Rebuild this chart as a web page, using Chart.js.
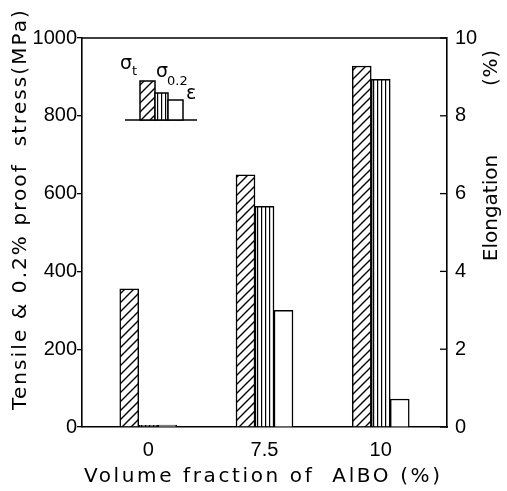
<!DOCTYPE html>
<html>
<head>
<meta charset="utf-8">
<script src="https://cdn.jsdelivr.net/npm/chart.js@4/dist/chart.umd.min.js"></script>
<style>
  html, body { margin: 0; padding: 0; background: #fff; }
  #wrap { width: 507px; height: 491px; }
</style>
</head>
<body>
<div id="wrap"><canvas id="chart" width="507" height="491"></canvas></div>
<script>
/* ================================
   Data
================================ */
const categories = ["0", "7.5", "10"];
const tensile = [355, 648, 928];      // sigma_t (MPa)
const proof = [4, 567, 894];          // sigma_0.2 (MPa)
const elongation = [0.05, 3.0, 0.72]; // (%)
const stressTicks = [0, 200, 400, 600, 800, 1000];
const elongTicks = [0, 2, 4, 6, 8, 10];

const FONT = "'Liberation Sans', Arial, sans-serif";
const TITLE_FONT = "'DejaVu Sans', sans-serif";

/* ================================
   Fill patterns
================================ */
function hatchPattern(ctx) {
  const c = document.createElement("canvas");
  c.width = 9; c.height = 9;
  const g = c.getContext("2d");
  g.fillStyle = "#fff";
  g.fillRect(0, 0, 9, 9);
  g.strokeStyle = "#000";
  g.lineWidth = 1.4;
  g.beginPath();
  g.moveTo(-1, 10); g.lineTo(10, -1);
  g.moveTo(-3, 3); g.lineTo(3, -3);
  g.moveTo(6, 12); g.lineTo(12, 6);
  g.stroke();
  return ctx.createPattern(c, "repeat");
}

function stripePattern(ctx) {
  const c = document.createElement("canvas");
  c.width = 4; c.height = 4;
  const g = c.getContext("2d");
  g.fillStyle = "#fff";
  g.fillRect(0, 0, 4, 4);
  g.fillStyle = "#000";
  g.fillRect(1, 0, 1.2, 4);
  return ctx.createPattern(c, "repeat");
}

const ctx = document.getElementById("chart").getContext("2d");
const hatch = hatchPattern(ctx);
const stripes = stripePattern(ctx);

/* ================================
   Helpers
================================ */
function drawSpaced(c, text, x, y, targetWidth, rot) {
  c.save();
  c.translate(x, y);
  c.rotate(rot);
  c.letterSpacing = "0px";
  const w = c.measureText(text).width;
  const sp = Math.max(0, (targetWidth - w) / Math.max(1, text.length - 1));
  c.letterSpacing = sp.toFixed(2) + "px";
  c.textAlign = "center";
  c.textBaseline = "middle";
  c.fillText(text, sp / 2, 0);
  c.restore();
}

/* ================================
   Decorations (frame, titles, inset legend)
================================ */
const decor = {
  id: "decor",
  afterDraw(chart) {
    const c = chart.ctx;
    const a = chart.chartArea;
    const y2 = chart.scales.y2;

    c.save();
    c.strokeStyle = "#000";
    c.lineWidth = 1.6;
    // top frame line
    c.beginPath();
    c.moveTo(a.left, a.top);
    c.lineTo(a.right, a.top);
    c.stroke();

    // right axis ticks point inwards
    c.lineWidth = 1.3;
    elongTicks.forEach(v => {
      const py = y2.getPixelForValue(v);
      c.beginPath();
      c.moveTo(a.right, py);
      c.lineTo(a.right - 7, py);
      c.stroke();
    });

    // axis titles
    c.fillStyle = "#000";
    c.font = "20px " + TITLE_FONT;
    drawSpaced(c, "Tensile & 0.2% proof  stress(MPa)", 21, 210, 400, -Math.PI / 2);
    drawSpaced(c, "Elongation", 492, 208, 106, -Math.PI / 2);
    drawSpaced(c, "(%)", 492, 68, 36, -Math.PI / 2);
    drawSpaced(c, "Volume fraction of  AlBO (%)", 262, 477, 356, 0);

    // inset legend
    c.lineWidth = 1.5;
    c.beginPath();
    c.moveTo(125, 120);
    c.lineTo(197, 120);
    c.stroke();
    const keys = [
      { x: 140, w: 15, top: 81, fill: hatch },
      { x: 155, w: 13, top: 93, fill: stripes },
      { x: 168, w: 15, top: 100, fill: "#fff" }
    ];
    keys.forEach(k => {
      c.fillStyle = k.fill;
      c.fillRect(k.x, k.top, k.w, 120 - k.top);
      c.strokeRect(k.x, k.top, k.w, 120 - k.top);
    });
    c.fillStyle = "#000";
    c.textBaseline = "middle";
    c.textAlign = "left";
    c.font = "19px " + TITLE_FONT;
    c.fillText("σ", 120, 64);
    c.fillText("σ", 156, 72);
    c.fillText("ε", 186, 94);
    c.font = "13px " + TITLE_FONT;
    c.fillText("t", 132, 72);
    c.fillText("0.2", 167, 82);
    c.restore();
  }
};

/* ================================
   Chart
================================ */
const toPoints = arr => arr.map((v, i) => ({ x: i, y: v }));

new Chart(ctx, {
  type: "bar",
  data: {
    datasets: [
      {
        label: "σt",
        data: toPoints(tensile),
        backgroundColor: hatch,
        borderColor: "#000",
        borderWidth: 1.5,
        yAxisID: "y"
      },
      {
        label: "σ0.2",
        data: toPoints(proof),
        backgroundColor: stripes,
        borderColor: "#000",
        borderWidth: 1.5,
        yAxisID: "y"
      },
      {
        label: "ε",
        data: toPoints(elongation),
        backgroundColor: "#fff",
        borderColor: "#000",
        borderWidth: 1.5,
        yAxisID: "y2"
      }
    ]
  },
  options: {
    responsive: false,
    animation: false,
    barThickness: 19,
    layout: { padding: { top: 38, left: 0, right: 0, bottom: 0 } },
    plugins: {
      legend: { display: false },
      tooltip: { enabled: false }
    },
    scales: {
      x: {
        type: "linear",
        offset: false,
        min: -0.57,
        max: 2.57,
        afterBuildTicks: s => { s.ticks = categories.map((_, i) => ({ value: i })); },
        afterFit: s => { s.height = 64; },
        grid: { display: true, drawOnChartArea: false, drawTicks: false, offset: false },
        border: { color: "#000", width: 1.6 },
        ticks: {
          callback: v => categories[v],
          color: "#000",
          font: { family: FONT, size: 20 },
          padding: 11,
          maxRotation: 0
        }
      },
      y: {
        position: "left",
        min: 0,
        max: 1000,
        afterBuildTicks: s => { s.ticks = stressTicks.map(v => ({ value: v })); },
        afterFit: s => { s.width = 82; },
        grid: { drawOnChartArea: false, tickLength: 5, color: "#000", lineWidth: 1.3 },
        border: { color: "#000", width: 1.6 },
        ticks: { callback: v => String(v), color: "#000", font: { family: FONT, size: 20 }, padding: 0 }
      },
      y2: {
        position: "right",
        min: 0,
        max: 10,
        afterBuildTicks: s => { s.ticks = elongTicks.map(v => ({ value: v })); },
        afterFit: s => { s.width = 60; },
        grid: { drawOnChartArea: false, drawTicks: false },
        border: { color: "#000", width: 1.6 },
        ticks: { callback: v => String(v), color: "#000", font: { family: FONT, size: 20 }, padding: 8 }
      }
    }
  },
  plugins: [decor]
});
</script>
</body>
</html>
